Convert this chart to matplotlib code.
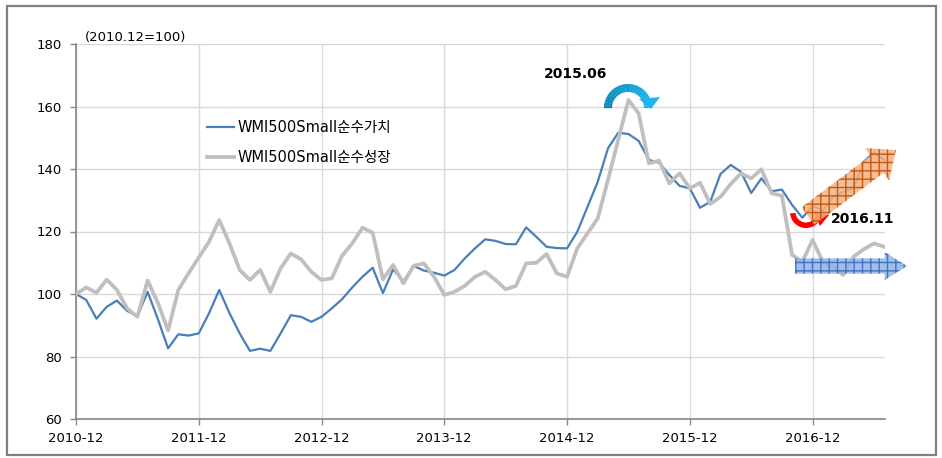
import matplotlib
matplotlib.use('Agg')
import matplotlib.pyplot as plt
from matplotlib.patches import Wedge, Polygon, Rectangle, FancyArrowPatch
from matplotlib.transforms import IdentityTransform
import numpy as np

# ---------------- data ----------------
value_series = [100, 98.1, 92.1, 95.9, 97.9, 94.6, 92.9, 100.7, 92.0, 82.6, 87.1, 86.7,
                87.4, 93.8, 101.3, 93.9, 87.4, 81.8, 82.5, 81.8, 87.4, 93.2, 92.7, 91.1,
                92.7, 95.4, 98.3, 102.1, 105.5, 108.4, 100.3, 107.9, 104.0, 109.0, 107.5, 106.8,
                105.9, 107.7, 111.4, 114.6, 117.5, 117.0, 116.0, 115.9, 121.3, 118.3, 115.1, 114.7,
                114.6, 119.9, 127.9, 135.9, 146.6, 151.6, 151.2, 149.0, 142.9, 142.0, 138.1, 134.6,
                133.8, 127.6, 129.5, 138.4, 141.3, 139.1, 132.3, 137.0, 132.9, 133.4, 128.5, 124.4,
                128.2, 126.7, 131.0, 132.7, 133.8, 142.3, 145.3, 142.9]
growth_series = [100, 102.1, 100.4, 104.6, 101.3, 95.4, 92.7, 104.3, 97.2, 88.3, 101.3, 106.6,
                 111.7, 116.7, 123.7, 116.2, 107.7, 104.5, 107.7, 100.7, 108.2, 113.0, 111.1, 107.1,
                 104.5, 105.0, 112.2, 116.2, 121.2, 119.6, 104.7, 109.3, 103.4, 109.0, 109.8, 105.5,
                 99.7, 100.7, 102.6, 105.5, 107.1, 104.5, 101.5, 102.6, 109.8, 110.0, 112.8, 106.6,
                 105.5, 114.6, 119.4, 124.2, 136.5, 149.3, 162.1, 157.8, 141.8, 142.7, 135.4, 138.6,
                 133.8, 135.6, 128.8, 131.1, 135.2, 138.6, 137.0, 139.9, 132.2, 131.5, 112.5, 110.3,
                 117.3, 110.3, 108.7, 106.1, 111.9, 114.3, 116.2, 115.1]
series_names = ['WMI500Small순수가치', 'WMI500Small순수성장']
xtick_labels = ['2010-12', '2011-12', '2012-12', '2013-12', '2014-12', '2015-12', '2016-12']
yticks = [60, 80, 100, 120, 140, 160, 180]
base_note = '(2010.12=100)'
ann1 = '2015.06'
ann2 = '2016.11'

W, H = 942, 458
fig = plt.figure(figsize=(W / 100, H / 100), dpi=100)
fig.patch.set_facecolor('white')

def P(x, y):
    return (x, H - y)

ax = fig.add_axes([76 / W, (H - 419) / H, (885 - 76) / W, (419 - 44) / H])
x = np.arange(len(value_series))
ax.plot(x, value_series, color='#4a7ebb', lw=1.6, label=series_names[0], zorder=3)
ax.plot(x, growth_series, color='#bfbfbf', lw=2.7, label=series_names[1], zorder=4)

ax.set_xlim(0, 79.08)
ax.set_ylim(60, 180)
ax.set_xticks([12 * k for k in range(len(xtick_labels))])
ax.set_xticklabels(xtick_labels, fontsize=9.5, family='DejaVu Sans')
ax.set_yticks(yticks)
ax.set_yticklabels([str(v) for v in yticks], fontsize=9.5, family='DejaVu Sans')
ax.tick_params(axis='both', direction='out', length=4, color='#868686', width=1, pad=6)
ax.tick_params(axis='x', pad=5)
ax.grid(True, color='#d9d9d9', lw=1)
ax.set_axisbelow(True)
for s in ['top', 'right']:
    ax.spines[s].set_visible(False)
for s in ['left', 'bottom']:
    ax.spines[s].set_color('#868686')
    ax.spines[s].set_linewidth(1.2)

fig.text(85 / W, 1 - 37 / H, base_note, fontsize=9.5, family='DejaVu Sans',
         va='center', ha='left')

leg = ax.legend(loc='upper left', bbox_to_anchor=(200 / W, 1 - 113 / H),
                bbox_transform=fig.transFigure, frameon=False,
                prop={'family': ['DejaVu Sans', 'Noto Sans CJK KR'], 'size': 10.5},
                handlelength=1.85, handletextpad=0.25, labelspacing=1.0, borderpad=0)

# outer border
fig.add_artist(Rectangle(P(7, 455), 929, 449, transform=IdentityTransform(),
                         fill=False, ec='#7f7f7f', lw=1.6))

# --- annotation: 2015.06 arc (gradient) ---
c1 = P(628, 108)
n = 24
c_left = np.array([0x12, 0x86, 0xb3]) / 255
c_right = np.array([0x1b, 0xb6, 0xf0]) / 255
for k in range(n):
    t0 = 180 - 180 * k / n
    t1 = 180 - 180 * (k + 1) / n
    col = c_left + (c_right - c_left) * (k / (n - 1))
    fig.add_artist(Wedge(c1, 24, t1, t0 + 0.5, width=8, transform=IdentityTransform(),
                         fc=col, ec='none'))
fig.add_artist(Polygon([P(639, 99), P(660, 97), P(651, 109)], closed=True,
                       transform=IdentityTransform(), fc='#1bb6f0', ec='none'))
fig.text(576 / W, 1 - 74 / H, ann1, fontsize=10, fontweight='bold',
         family='DejaVu Sans', ha='center', va='center')

# --- annotation: 2016.11 red arc ---
c2 = P(806, 212)
fig.add_artist(Wedge(c2, 16, 185, 335, width=5.5, transform=IdentityTransform(),
                     fc='#ff0000', ec='none', zorder=6))
fig.add_artist(Polygon([P(813, 211), P(829, 215), P(820, 226)], closed=True,
                       transform=IdentityTransform(), fc='#ff0000', ec='none', zorder=6))
fig.text(863 / W, 1 - 219 / H, ann2, fontsize=10, fontweight='bold',
         family='DejaVu Sans', ha='center', va='center')

# --- hatched arrows ---
arr_o = FancyArrowPatch(P(808, 216), P(896, 150), transform=IdentityTransform(),
                        arrowstyle='simple,head_length=17,head_width=29,tail_width=15.5',
                        mutation_scale=1, shrinkA=0, shrinkB=0,
                        fc=(0.957, 0.694, 0.514, 0.85), ec='#c55a11', lw=0,
                        hatch='++', zorder=7)
fig.add_artist(arr_o)
arr_b = FancyArrowPatch(P(795, 266), P(907, 266), transform=IdentityTransform(),
                        arrowstyle='simple,head_length=16,head_width=20,tail_width=11',
                        mutation_scale=1, shrinkA=0, shrinkB=0,
                        fc=(0.561, 0.706, 0.890, 0.85), ec='#4472c4', lw=0,
                        hatch='++', zorder=7)
fig.add_artist(arr_b)

fig.savefig('out.png', dpi=100)
